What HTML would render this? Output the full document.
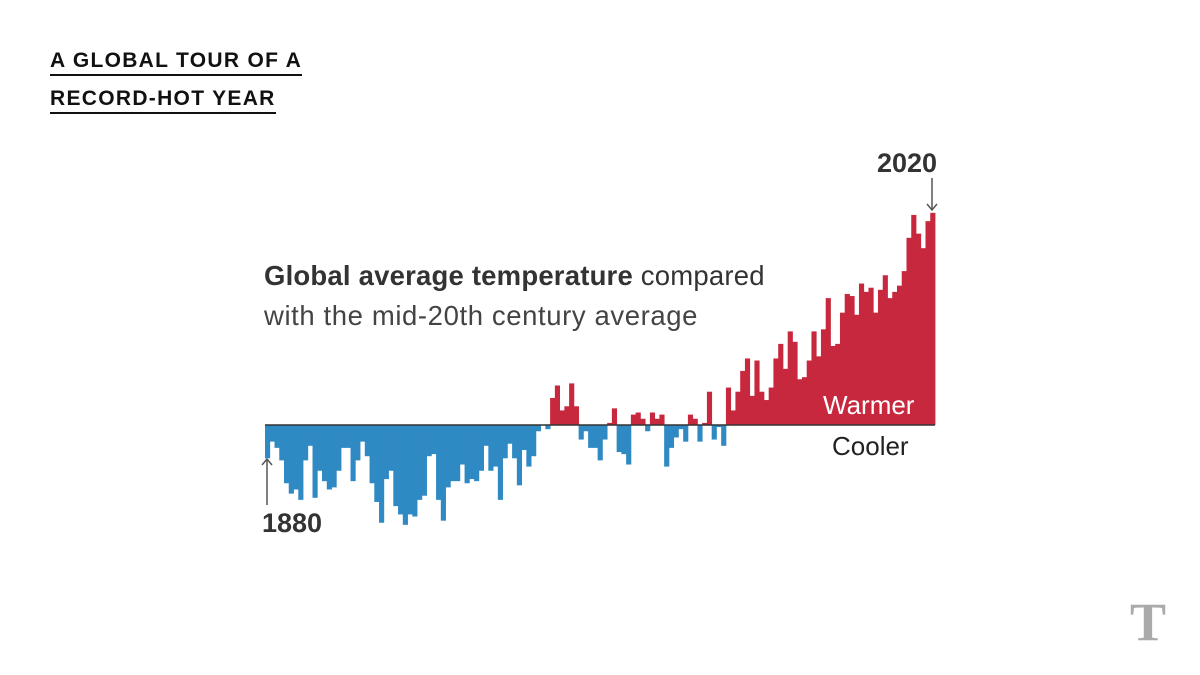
<!DOCTYPE html>
<html><head><meta charset="utf-8"><style>
body{margin:0;background:#fff;width:1200px;height:675px;overflow:hidden;position:relative;font-family:"Liberation Sans",sans-serif}
.t{position:absolute;left:50px;font-weight:bold;font-size:21px;letter-spacing:1.3px;color:#111;border-bottom:2px solid #111;line-height:26px}
</style></head><body>
<div class="t" style="top:48px">A GLOBAL TOUR OF A</div>
<div class="t" style="top:86px">RECORD-HOT YEAR</div>
<svg id="c" width="1200" height="675" style="position:absolute;left:0;top:0">
<text x="264" y="285" font-size="27.5" letter-spacing="0.2" fill="#333"><tspan font-weight="bold">Global average temperature</tspan> compared</text>
<text x="264" y="325" font-size="27.5" letter-spacing="0.6" fill="#444">with the mid-20th century average</text>
<g id="bars"></g>
<line x1="265" x2="935" y1="425" y2="425" stroke="#333" stroke-width="1.5"/>
<text x="823" y="414" font-size="26" fill="#fff">Warmer</text>
<text x="832" y="455" font-size="26" fill="#222">Cooler</text>
<text x="877" y="172" font-size="27" font-weight="bold" fill="#333">2020</text>
<g stroke="#555" stroke-width="1.5" fill="none"><line x1="932" y1="178" x2="932" y2="210"/><polyline points="927,204 932,210 937,204"/></g>
<text x="262" y="532" font-size="27" font-weight="bold" fill="#333">1880</text>
<g stroke="#555" stroke-width="1.5" fill="none"><line x1="267" y1="505" x2="267" y2="459"/><polyline points="262,465 267,459 272,465"/></g>
<text x="1130" y="640" font-size="54" font-family="Liberation Serif,serif" font-weight="bold" fill="#aaa">T</text>
</svg>
<script>
const startYear = 1880;
const anomalies = [-16,-8,-11,-17,-28,-33,-31,-36,-17,-10,
-35,-22,-27,-31,-30,-22,-11,-11,-27,-17,
-8,-15,-28,-37,-47,-26,-22,-39,-43,-48,
-43,-44,-36,-34,-15,-14,-36,-46,-30,-27,
-27,-19,-28,-26,-27,-22,-10,-22,-20,-36,
-16,-9,-16,-29,-12,-20,-15,-3,0,-2,
13,19,7,9,20,9,-7,-3,-11,-11,
-17,-7,1,8,-13,-14,-19,5,6,3,
-3,6,3,5,-20,-11,-6,-2,-8,5,
3,-8,1,16,-7,-1,-10,18,7,16,
26,32,14,31,16,12,18,32,39,27,
45,40,22,23,31,45,33,46,61,38,
39,54,63,62,53,68,64,66,54,65,
72,61,64,67,74,90,101,92,85,98,102];
const x0=265,x1=935,base=425,pxPerUnit=2.08;
const bw=(x1-x0)/anomalies.length;
const xs=i=>x0+i*bw;
const ys=v=>base-v*pxPerUnit;
const g=document.getElementById('bars');
anomalies.forEach((v,i)=>{
  const r=document.createElementNS('http://www.w3.org/2000/svg','rect');
  r.setAttribute('x',xs(i));
  r.setAttribute('width',bw+0.4);
  const y=ys(v);
  r.setAttribute('y',Math.min(y,base));
  r.setAttribute('height',Math.abs(y-base));
  r.setAttribute('fill',v>=0?'#c8283e':'#2f8ac4');
  
  
  g.appendChild(r);
});
</script>
</body></html>
